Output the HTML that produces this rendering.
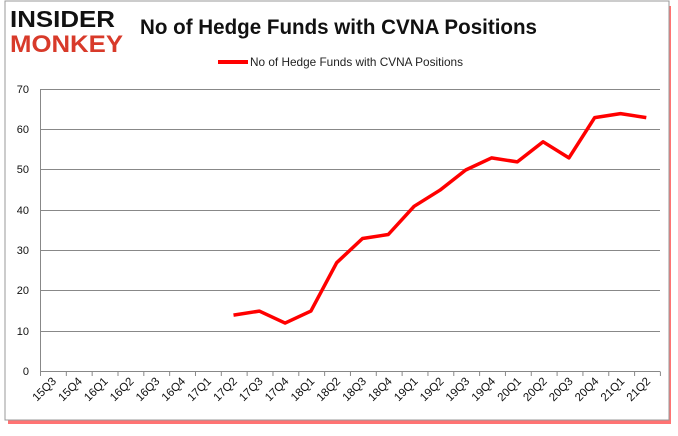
<!DOCTYPE html>
<html><head><meta charset="utf-8"><style>
body{margin:0;background:#fff;width:678px;height:431px;overflow:hidden;font-family:"Liberation Sans",sans-serif}
</style></head><body>
<svg width="678" height="431" xmlns="http://www.w3.org/2000/svg" font-family="Liberation Sans, sans-serif">
<rect x="8" y="6" width="663" height="418" fill="#f00" opacity="0.55"/>
<rect x="5" y="1" width="664" height="419" fill="#fff" stroke="#999" stroke-width="1"/>
<text x="10" y="27" font-size="23" font-weight="bold" fill="#111" textLength="105" lengthAdjust="spacingAndGlyphs">INSIDER</text>
<text x="10" y="52" font-size="24" font-weight="bold" fill="#d83a2a" textLength="113" lengthAdjust="spacingAndGlyphs">MONKEY</text>
<text x="140" y="34" font-size="21" font-weight="bold" fill="#111" textLength="397" lengthAdjust="spacingAndGlyphs">No of Hedge Funds with CVNA Positions</text>
<line x1="218" y1="62" x2="248" y2="62" stroke="#f00" stroke-width="4"/>
<text x="250" y="66" font-size="12" fill="#222" textLength="213" lengthAdjust="spacingAndGlyphs">No of Hedge Funds with CVNA Positions</text>
<g stroke="#888" stroke-width="1">
<line x1="40" y1="89.5" x2="660" y2="89.5"/>
<line x1="40" y1="129.5" x2="660" y2="129.5"/>
<line x1="40" y1="169.5" x2="660" y2="169.5"/>
<line x1="40" y1="210.5" x2="660" y2="210.5"/>
<line x1="40" y1="250.5" x2="660" y2="250.5"/>
<line x1="40" y1="290.5" x2="660" y2="290.5"/>
<line x1="40" y1="331.5" x2="660" y2="331.5"/>
<line x1="40" y1="371.5" x2="660" y2="371.5"/>
<line x1="40.5" y1="89" x2="40.5" y2="375"/>
</g>
<g font-size="11" fill="#111" text-anchor="end">
<text x="29" y="93">70</text><text x="29" y="133">60</text><text x="29" y="173">50</text><text x="29" y="214">40</text><text x="29" y="254">30</text><text x="29" y="294">20</text><text x="29" y="335">10</text><text x="29" y="375">0</text>
</g>
<g id="ticks" stroke="#888"></g>
<g id="labs" font-size="11.5" fill="#111" text-anchor="end"></g>
<polyline fill="none" stroke="#f00" stroke-width="3.5" stroke-linejoin="round" points="233.5,315.1 259.3,311.1 285.1,323.1 310.9,311.1 336.7,262.7 362.5,238.5 388.3,234.5 414.1,206.3 439.9,190.2 465.7,170.0 491.5,157.9 517.3,161.9 543.1,141.8 568.9,157.9 594.7,117.6 620.5,113.6 646.3,117.6"/>
<script>
var L=["15Q3","15Q4","16Q1","16Q2","16Q3","16Q4","17Q1","17Q2","17Q3","17Q4","18Q1","18Q2","18Q3","18Q4","19Q1","19Q2","19Q3","19Q4","20Q1","20Q2","20Q3","20Q4","21Q1","21Q2"];
var t=document.getElementById("ticks"),g=document.getElementById("labs"),ns="http://www.w3.org/2000/svg";
for(var i=0;i<=24;i++){var x=40.5+i*25.83;var l=document.createElementNS(ns,"line");l.setAttribute("x1",x);l.setAttribute("x2",x);l.setAttribute("y1",371.5);l.setAttribute("y2",376);t.appendChild(l);}
for(var i=0;i<24;i++){var x=40+25.83*(i+0.5)+4;var y=382;var e=document.createElementNS(ns,"text");e.setAttribute("transform","translate("+x+","+y+") rotate(-45)");e.textContent=L[i];g.appendChild(e);}
</script>
</svg>
</body></html>
